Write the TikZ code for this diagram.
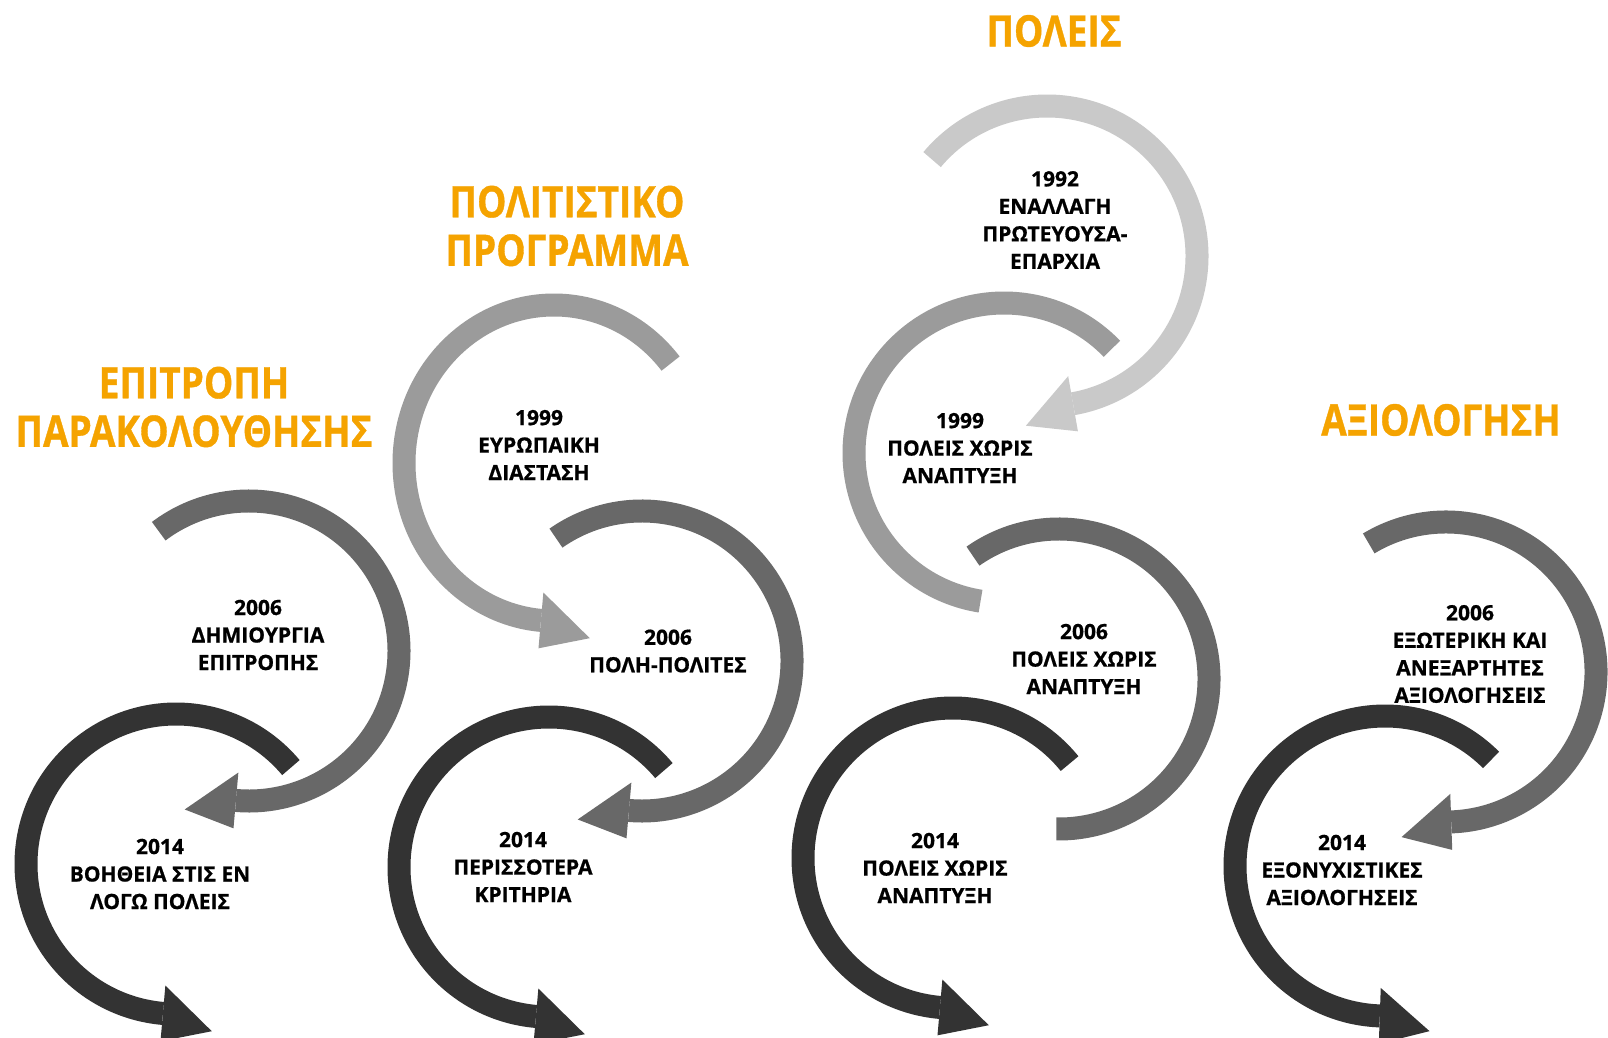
\documentclass[tikz,border=0pt]{standalone}
\usepackage{fontspec}
\usetikzlibrary{calc}
\newfontfamily\labelfont{Open Sans}[FakeBold=0.8]
\newfontfamily\titlefont{Open Sans}[FakeStretch=0.85,FakeBold=0.8]
\definecolor{titleorange}{HTML}{F5A300}
\definecolor{grayA}{HTML}{C9C9C9}
\definecolor{grayB}{HTML}{9B9B9B}
\definecolor{grayC}{HTML}{686868}
\definecolor{grayD}{HTML}{333333}
\newcommand\swirl[5][150]{\draw[swirl,#5] ($(#2)+(#3:150 and #1)$) arc[start angle=#3,end angle=#4,x radius=150,y radius=#1];}
\newcommand\headleft[4][150]{\fill[#4] ($(#2)+(#3:178 and {#1+28})$) -- ($(#2)+(#3:150 and #1)+({#3+75}:52)$) -- ($(#2)+(#3:122 and {#1-28})$) -- cycle;}
\newcommand\headright[4][150]{\fill[#4] ($(#2)+(#3:178 and {#1+28})$) -- ($(#2)+(#3:150 and #1)+({#3-75}:52)$) -- ($(#2)+(#3:122 and {#1-28})$) -- cycle;}
\begin{document}
\begin{tikzpicture}[x=1pt,y=-1pt]

\tikzset{swirl/.style={line width=23pt}}
\tikzset{title/.style={text=titleorange,align=center,inner sep=0pt,
  font={\titlefont\bfseries\fontsize{43.5}{48.5}\selectfont}}}
\tikzset{lbl/.style={text=black,align=center,inner sep=0pt,
  font={\labelfont\bfseries\fontsize{21}{27.5}\selectfont}}}

\useasboundingbox[fill=white] (0,0) rectangle (1608,1038);

\coordinate (c1a) at (249,651);
\coordinate (c1b) at (176,864);
\coordinate (c2a) at (554,463);
\coordinate (c2b) at (642,661);
\coordinate (c2c) at (549,867);
\coordinate (c3a) at (1047,256);
\coordinate (c3b) at (1004,453);
\coordinate (c3c) at (1059,679);
\coordinate (c3d) at (953,858);
\coordinate (c4a) at (1446,672);
\coordinate (c4b) at (1385,866);

% first column
\swirl{c1a}{-127}{95}{grayC}   \headleft{c1a}{95}{grayC}
\swirl{c1b}{-40}{-265}{grayD}  \headright{c1b}{-265}{grayD}

% second column
\swirl[158]{c2a}{-39}{-265}{grayB}  \headright[158]{c2a}{-265}{grayB}
\swirl{c2b}{-125}{95}{grayC}   \headleft{c2b}{95}{grayC}
\swirl{c2c}{-40}{-265}{grayD}  \headright{c2c}{-265}{grayD}

% third column
\swirl{c3a}{-140}{80}{grayA}   \headleft{c3a}{80}{grayA}
\swirl{c3b}{-44}{-261}{grayB}
\swirl{c3c}{-125}{91}{grayC}
\swirl{c3d}{-39}{-265}{grayD}  \headright{c3d}{-265}{grayD}

% fourth column
\swirl{c4a}{-121}{88}{grayC}   \headleft{c4a}{88}{grayC}
\swirl{c4b}{-45}{-268}{grayD}  \headright{c4b}{-268}{grayD}

\node[title] (epitropi)   at (194,407)  {ΕΠΙΤΡΟΠΗ\\ΠΑΡΑΚΟΛΟΥΘΗΣΗΣ};
\node[title] (programma)  at (567,226)  {ΠΟΛΙΤΙΣΤΙΚΟ\\ΠΡΟΓΡΑΜΜΑ};
\node[title] (poleis)     at (1054,31)  {ΠΟΛΕΙΣ};
\node[title] (axiologisi) at (1441,420) {ΑΞΙΟΛΟΓΗΣΗ};

\node[lbl] (l1a) at (258,635)  {2006\\ΔΗΜΙΟΥΡΓΙΑ\\ΕΠΙΤΡΟΠΗΣ};
\node[lbl] (l1b) at (160,874)  {2014\\ΒΟΗΘΕΙΑ ΣΤΙΣ ΕΝ\\ΛΟΓΩ ΠΟΛΕΙΣ};
\node[lbl] (l2a) at (539,445)  {1999\\ΕΥΡΩΠΑΙΚΗ\\ΔΙΑΣΤΑΣΗ};
\node[lbl] (l2b) at (668,651)  {2006\\ΠΟΛΗ-ΠΟΛΙΤΕΣ};
\node[lbl] (l2c) at (523,867)  {2014\\ΠΕΡΙΣΣΟΤΕΡΑ\\ΚΡΙΤΗΡΙΑ};
\node[lbl] (l3a) at (1055,220) {1992\\ΕΝΑΛΛΑΓΗ\\ΠΡΩΤΕΥΟΥΣΑ-\\ΕΠΑΡΧΙΑ};
\node[lbl] (l3b) at (960,448)  {1999\\ΠΟΛΕΙΣ ΧΩΡΙΣ\\ΑΝΑΠΤΥΞΗ};
\node[lbl] (l3c) at (1084,659) {2006\\ΠΟΛΕΙΣ ΧΩΡΙΣ\\ΑΝΑΠΤΥΞΗ};
\node[lbl] (l3d) at (935,868)  {2014\\ΠΟΛΕΙΣ ΧΩΡΙΣ\\ΑΝΑΠΤΥΞΗ};
\node[lbl] (l4a) at (1470,654) {2006\\ΕΞΩΤΕΡΙΚΗ ΚΑΙ\\ΑΝΕΞΑΡΤΗΤΕΣ\\ΑΞΙΟΛΟΓΗΣΕΙΣ};
\node[lbl] (l4b) at (1342,870) {2014\\ΕΞΟΝΥΧΙΣΤΙΚΕΣ\\ΑΞΙΟΛΟΓΗΣΕΙΣ};

\end{tikzpicture}
\end{document}
